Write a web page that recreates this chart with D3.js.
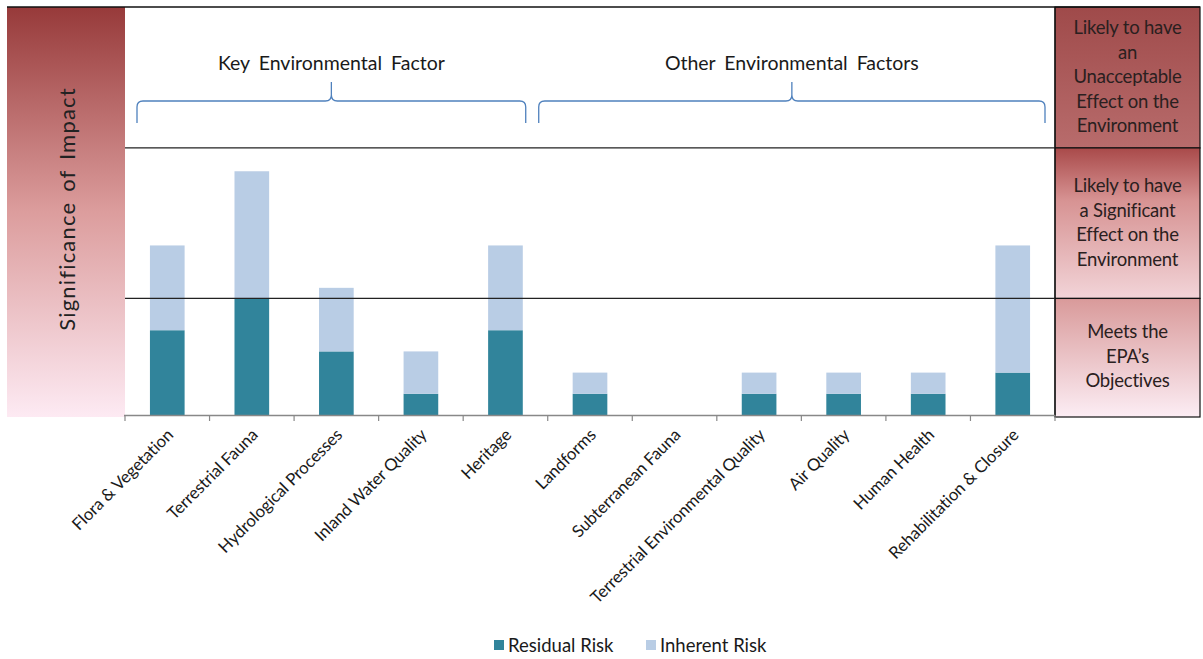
<!DOCTYPE html>
<html>
<head>
<meta charset="utf-8">
<script src="https://cdn.jsdelivr.net/npm/d3@7"></script>
<style>
  body { margin: 0; background: #fff; }
  svg { display: block; font-family: Lato, "Open Sans", sans-serif; }
</style>
</head>
<body>
<script>
// chart values
const categories = ['Flora & Vegetation', 'Terrestrial Fauna', 'Hydrological Processes',
  'Inland Water Quality', 'Heritage', 'Landforms', 'Subterranean Fauna',
  'Terrestrial Environmental Quality', 'Air Quality', 'Human Health', 'Rehabilitation & Closure'];
const residualRisk = [4, 5.5, 3, 1, 4, 1, 0, 1, 1, 1, 2];
const inherentRisk = [4, 6, 3, 2, 4, 1, 0, 1, 1, 1, 6];   // stacked above residual
const seriesNames = ['Residual Risk', 'Inherent Risk'];
const thresholds = [5.5, 12.6];
const groups = [
  { label: 'Key Environmental Factor', from: 0, to: 4 },
  { label: 'Other Environmental Factors', from: 5, to: 10 }
];
const bands = [
  ['Likely to have', 'an', 'Unacceptable', 'Effect on the', 'Environment'],
  ['Likely to have', 'a Significant', 'Effect on the', 'Environment'],
  ['Meets the', 'EPA\u2019s', 'Objectives']
];

const W = 1203, H = 659;
const plot = { left: 125, right: 1055, top: 7, bottom: 415 };

const svg = d3.select('body').append('svg').attr('width', W).attr('height', H);
const defs = svg.append('defs');

const addGrad = (id, stops) => {
  const g = defs.append('linearGradient').attr('id', id)
    .attr('x1', 0).attr('y1', 0).attr('x2', 0).attr('y2', 1);
  stops.forEach(s => g.append('stop').attr('offset', s[0]).attr('stop-color', s[1]));
};
addGrad('gLeft', [[0, '#973a3a'], [0.5, '#dc9d9d'], [1, '#fdeaf3']]);
addGrad('gBand0', [[0, '#9f4a4a'], [1, '#b86c6c']]);
addGrad('gBand1', [[0, '#a94a4a'], [0.35, '#d79393'], [1, '#f2d4d8']]);
addGrad('gBand2', [[0, '#d99a9a'], [1, '#fcedf4']]);

const x = d3.scaleBand().domain(categories).range([plot.left, plot.right]).paddingInner(0).paddingOuter(0);
const y = d3.scaleLinear().domain([0, 19.25]).range([plot.bottom, plot.top]);

// left panel
svg.append('rect').attr('x', 7).attr('y', plot.top).attr('width', plot.left - 7)
  .attr('height', plot.bottom + 2 - plot.top).attr('fill', 'url(#gLeft)');
svg.append('text')
  .attr('transform', `translate(75,${(plot.top + plot.bottom) / 2 - 2}) rotate(-90)`)
  .attr('text-anchor', 'middle').attr('font-size', 22).attr('fill', '#222')
  .attr('letter-spacing', 1.2).attr('word-spacing', 3)
  .text('Significance of Impact');

// right panel bands
const bandEdges = [y.domain()[1], thresholds[1], thresholds[0], 0];
bands.forEach((lines, i) => {
  const y0 = y(bandEdges[i]), y1 = y(bandEdges[i + 1]);
  svg.append('rect').attr('x', plot.right).attr('y', y0).attr('width', W - 3 - plot.right)
    .attr('height', y1 - y0 + (i === 2 ? 2 : 0)).attr('fill', `url(#gBand${i})`)
    .attr('stroke', '#111').attr('stroke-width', 1.2);
  const mid = (y0 + y1) / 2, lh = 24.5;
  svg.append('text').attr('text-anchor', 'middle').attr('font-size', 18.5).attr('fill', '#2a2020')
    .attr('letter-spacing', -0.2)
    .selectAll('tspan').data(lines).join('tspan')
    .attr('x', (plot.right + W - 3) / 2)
    .attr('y', (d, j) => mid + (j - (lines.length - 1) / 2) * lh + 6)
    .text(d => d);
});

// frame lines
svg.append('line').attr('x1', 7).attr('x2', W - 3).attr('y1', plot.top).attr('y2', plot.top)
  .attr('stroke', '#111').attr('stroke-width', 1.5);
svg.append('line').attr('x1', plot.right).attr('x2', plot.right).attr('y1', plot.top).attr('y2', plot.bottom + 2)
  .attr('stroke', '#111').attr('stroke-width', 1.2);

// bars
const rows = categories.map((c, i) => ({ cat: c, 'Residual Risk': residualRisk[i], 'Inherent Risk': inherentRisk[i] }));
const stack = d3.stack().keys(seriesNames)(rows);
const color = d3.scaleOrdinal().domain(seriesNames).range(['#31849b', '#b9cde5']);
const bw = x.bandwidth() * 0.41;
svg.append('g').selectAll('g').data(stack).join('g')
  .attr('fill', d => color(d.key))
  .selectAll('rect').data(d => d).join('rect')
  .attr('x', d => x(d.data.cat) + (x.bandwidth() - bw) / 2)
  .attr('y', d => y(d[1]))
  .attr('width', bw)
  .attr('height', d => y(d[0]) - y(d[1]));

// threshold lines
svg.selectAll('.thr').data(thresholds).join('line').attr('class', 'thr')
  .attr('x1', plot.left).attr('x2', plot.right)
  .attr('y1', d => y(d)).attr('y2', d => y(d))
  .attr('stroke', '#222').attr('stroke-width', 1.3);

// x axis with ticks at band boundaries
const ax = svg.append('g');
ax.append('line').attr('x1', plot.left - 1).attr('x2', plot.right).attr('y1', plot.bottom + 0.5).attr('y2', plot.bottom + 0.5)
  .attr('stroke', '#888').attr('stroke-width', 1.5);
ax.selectAll('.tk').data(categories.concat([null])).join('line').attr('class', 'tk')
  .attr('x1', (d, i) => plot.left + i * x.step()).attr('x2', (d, i) => plot.left + i * x.step())
  .attr('y1', plot.bottom).attr('y2', plot.bottom + 6)
  .attr('stroke', '#888').attr('stroke-width', 1.2);
ax.selectAll('.lbl').data(categories).join('text').attr('class', 'lbl')
  .attr('transform', d => `translate(${x(d) + x.bandwidth() / 2 + 7},${plot.bottom + 21}) rotate(-45)`)
  .attr('text-anchor', 'end').attr('font-size', 16.8).attr('fill', '#1a1a1a')
  .attr('letter-spacing', -0.1)
  .text(d => d);

// group braces
const braceY = 101, braceH = 22, peak = 19;
const bracePad = [[12, 22], [-9, 10]];
groups.forEach((g, gi) => {
  const x0 = x(categories[g.from]) + bracePad[gi][0];
  const x1 = x(categories[g.to]) + x.step() - bracePad[gi][1];
  const xm = (x0 + x1) / 2;
  const r = 6;
  const p = d3.path();
  p.moveTo(x0, braceY + braceH);
  p.lineTo(x0, braceY + r);
  p.quadraticCurveTo(x0, braceY, x0 + r, braceY);
  p.lineTo(xm - r, braceY);
  p.quadraticCurveTo(xm, braceY, xm, braceY - r);
  p.lineTo(xm, braceY - peak);
  p.moveTo(xm, braceY - r);
  p.quadraticCurveTo(xm, braceY, xm + r, braceY);
  p.lineTo(x1 - r, braceY);
  p.quadraticCurveTo(x1, braceY, x1, braceY + r);
  p.lineTo(x1, braceY + braceH);
  svg.append('path').attr('d', p.toString()).attr('fill', 'none')
    .attr('stroke', '#4f81bd').attr('stroke-width', 1.3);
  svg.append('text').attr('x', xm).attr('y', 70).attr('text-anchor', 'middle')
    .attr('font-size', 19.5).attr('fill', '#1a1a1a').attr('word-spacing', 4).text(g.label);
});

// legend
const leg = svg.append('g').attr('transform', 'translate(494,640)');
const items = leg.selectAll('g').data(seriesNames).join('g')
  .attr('transform', (d, i) => `translate(${i * 152},0)`);
items.append('rect').attr('width', 10).attr('height', 10).attr('fill', d => color(d));
items.append('text').attr('x', 14).attr('y', 12).attr('font-size', 18.5).attr('fill', '#1a1a1a').text(d => d);
</script>
</body>
</html>
